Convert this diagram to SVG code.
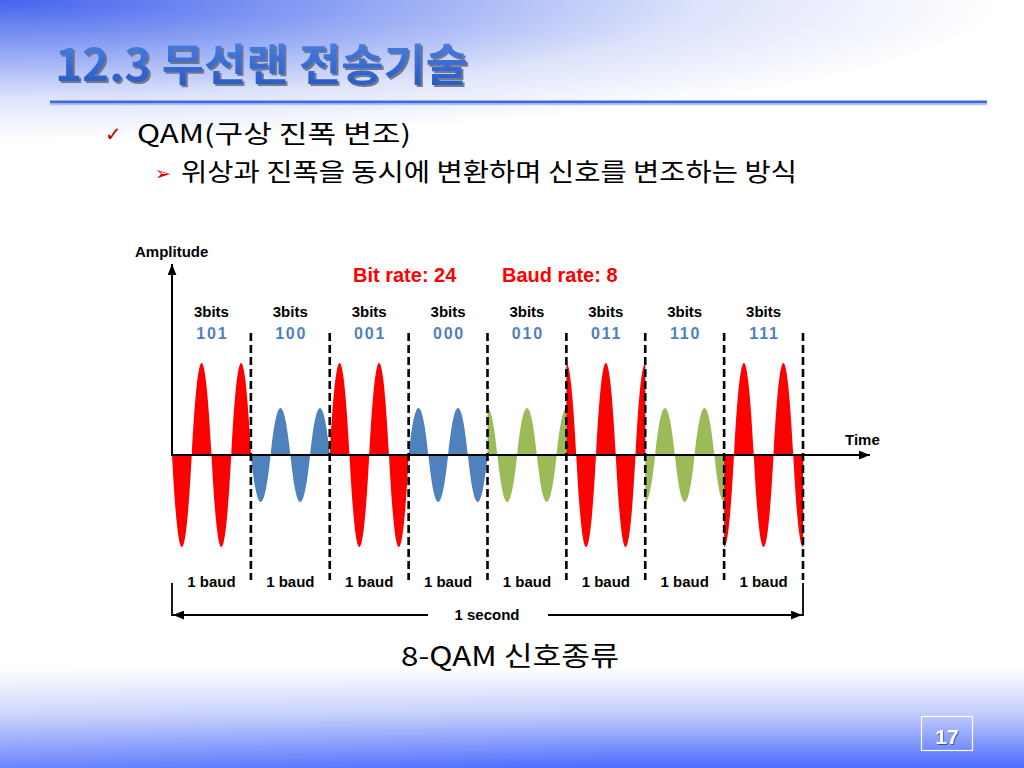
<svg xmlns="http://www.w3.org/2000/svg" xmlns:xlink="http://www.w3.org/1999/xlink" width="1024" height="768" viewBox="0 0 1024 768">
<defs>
  <radialGradient id="topBg" gradientUnits="userSpaceOnUse" cx="0" cy="0" r="1000" gradientTransform="scale(1,0.14)">
    <stop offset="0" stop-color="#4463ee"/>
    <stop offset="0.35" stop-color="#8ea3f4"/>
    <stop offset="0.7" stop-color="#dde3fb"/>
    <stop offset="1" stop-color="#ffffff"/>
  </radialGradient>
  <linearGradient id="botBg" x1="0" y1="668" x2="0" y2="768" gradientUnits="userSpaceOnUse">
    <stop offset="0" stop-color="#ffffff"/>
    <stop offset="0.45" stop-color="#c4cefb"/>
    <stop offset="1" stop-color="#4b6bfd"/>
  </linearGradient>
  <linearGradient id="botSide" x1="0" y1="0" x2="1024" y2="0" gradientUnits="userSpaceOnUse">
    <stop offset="0" stop-color="#ffffff" stop-opacity="0.18"/>
    <stop offset="0.6" stop-color="#ffffff" stop-opacity="0"/>
  </linearGradient>
  <linearGradient id="titleFill" x1="0" y1="40" x2="0" y2="85" gradientUnits="userSpaceOnUse">
    <stop offset="0" stop-color="#4a7fe0"/>
    <stop offset="1" stop-color="#2a5cc4"/>
  </linearGradient>
  <filter id="shadow" x="-5%" y="-20%" width="110%" height="140%">
    <feDropShadow dx="2" dy="2" stdDeviation="0.7" flood-color="#6a6f80" flood-opacity="0.9"/>
  </filter>
  <filter id="numShadow" x="-20%" y="-20%" width="140%" height="140%">
    <feDropShadow dx="1" dy="1" stdDeviation="0.5" flood-color="#203080" flood-opacity="0.7"/>
  </filter>
  <marker id="arrow" viewBox="0 0 10 8" refX="10" refY="4" markerWidth="11" markerHeight="9" markerUnits="userSpaceOnUse" orient="auto">
    <path d="M0,0 L10,4 L0,8 z" fill="#000"/>
  </marker>
  <!-- unit sine: y = -sin, two cycles over 79px -->
  <path id="sinW" d="M0,0 C6.5,-1.3333 13.25,-1.3333 19.75,0 C26.25,1.3333 33,1.3333 39.5,0 C46,-1.3333 52.75,-1.3333 59.25,0 C65.75,1.3333 72.5,1.3333 79,0 Z"/>
  <!-- unit cosine: y = -cos, two cycles over 79px -->
  <path id="cosW" d="M0,0 L0,-1 C3.3,-1 6.575,-0.677 9.875,0 C16.375,1.3333 23.125,1.3333 29.625,0 C36.125,-1.3333 42.875,-1.3333 49.375,0 C55.875,1.3333 62.625,1.3333 69.125,0 C72.425,-0.677 75.7,-1 79,-1 L79,0 Z"/>
  <style>
    .lbl { font-family: "Liberation Sans", Arial, sans-serif; font-weight: bold; fill: #000; }
    .bits { font-family: "Liberation Sans", Arial, sans-serif; font-weight: bold; font-size: 15px; fill: #000; text-anchor: middle; }
    .code { font-family: "Liberation Sans", Arial, sans-serif; font-weight: bold; font-size: 16px; fill: #4F81BD; text-anchor: middle; letter-spacing: 1.8px; }
    .baud { font-family: "Liberation Sans", Arial, sans-serif; font-weight: bold; font-size: 15px; fill: #000; text-anchor: middle; }
    .rate { font-family: "Liberation Sans", Arial, sans-serif; font-weight: bold; font-size: 20px; fill: #FF0000; }
    .kr { font-family: "Noto Sans CJK KR", "Noto Sans", sans-serif; fill: #000; }
    .red { fill: #FF0000; }
    .blue { fill: #4F81BD; }
    .green { fill: #9BBB59; }
    .dash { stroke: #000; stroke-width: 2.6; stroke-dasharray: 8 4; fill: none; }
    .axis { stroke: #000; stroke-width: 2; fill: none; }
  </style>
</defs>

<!-- background -->
<rect x="0" y="0" width="1024" height="768" fill="#ffffff"/>
<rect x="0" y="0" width="1024" height="150" fill="url(#topBg)"/>
<rect x="0" y="668" width="1024" height="100" fill="url(#botBg)"/>
<rect x="0" y="668" width="1024" height="100" fill="url(#botSide)"/>

<!-- title -->
<g id="title">
  <text x="55" y="81" font-family="'Noto Sans CJK KR', 'Noto Sans', sans-serif" font-weight="bold" font-size="44" fill="url(#titleFill)" filter="url(#shadow)" textLength="413" lengthAdjust="spacingAndGlyphs">12.3 무선랜 전송기술</text>
  <line x1="50" y1="102" x2="987" y2="102" stroke="#4169E1" stroke-width="3"/>
  <line x1="50" y1="104.5" x2="987" y2="104.5" stroke="#b4c2f2" stroke-width="1.5"/>
</g>

<!-- bullets -->
<g id="bullet1">
  <text x="105" y="141" font-family="'DejaVu Sans', sans-serif" font-size="20" fill="#CC0000">✓</text>
  <text class="kr" x="137" y="143" font-size="25" textLength="274" lengthAdjust="spacingAndGlyphs">QAM(구상 진폭 변조)</text>
</g>
<g id="bullet2">
  <text x="155" y="180" font-family="'DejaVu Sans', sans-serif" font-size="19" fill="#DD0000">➢</text>
  <text class="kr" x="181" y="181" font-size="25" textLength="616" lengthAdjust="spacingAndGlyphs">위상과 진폭을 동시에 변환하며 신호를 변조하는 방식</text>
</g>

<!-- rate labels -->
<g id="rates">
  <text class="rate" x="353" y="282">Bit rate: 24</text>
  <text class="rate" x="502" y="282">Baud rate: 8</text>
</g>

<!-- waveform segments -->
<g id="waves">
  <g id="seg-101"><use xlink:href="#sinW" href="#sinW" class="red" transform="translate(172,455) scale(1,-92)"/></g>
  <g id="seg-100"><use xlink:href="#sinW" href="#sinW" class="blue" transform="translate(250.875,455) scale(1,-47)"/></g>
  <g id="seg-001"><use xlink:href="#sinW" href="#sinW" class="red" transform="translate(329.75,455) scale(1,92)"/></g>
  <g id="seg-000"><use xlink:href="#sinW" href="#sinW" class="blue" transform="translate(408.625,455) scale(1,47)"/></g>
  <g id="seg-010"><use xlink:href="#cosW" href="#cosW" class="green" transform="translate(487.5,455) scale(1,47)"/></g>
  <g id="seg-011"><use xlink:href="#cosW" href="#cosW" class="red" transform="translate(566.375,455) scale(1,92)"/></g>
  <g id="seg-110"><use xlink:href="#cosW" href="#cosW" class="green" transform="translate(645.25,455) scale(1,-47)"/></g>
  <g id="seg-111"><use xlink:href="#cosW" href="#cosW" class="red" transform="translate(724.125,455) scale(1,-92)"/></g>
</g>

<!-- axes -->
<g id="axes">
  <line class="axis" x1="172" y1="455" x2="172" y2="264" marker-end="url(#arrow)"/>
  <line class="axis" x1="171" y1="455" x2="870" y2="455" marker-end="url(#arrow)"/>
  <text class="lbl" x="135" y="257" font-size="15">Amplitude</text>
  <text class="lbl" x="845" y="445" font-size="15">Time</text>
</g>

<!-- connectors: baud boundaries and 1-second span -->
<g id="connectors">
  <line class="dash" x1="250.875" y1="333" x2="250.875" y2="580"/>
  <line class="dash" x1="329.75" y1="333" x2="329.75" y2="580"/>
  <line class="dash" x1="408.625" y1="333" x2="408.625" y2="580"/>
  <line class="dash" x1="487.5" y1="333" x2="487.5" y2="580"/>
  <line class="dash" x1="566.375" y1="333" x2="566.375" y2="580"/>
  <line class="dash" x1="645.25" y1="333" x2="645.25" y2="580"/>
  <line class="dash" x1="724.125" y1="333" x2="724.125" y2="580"/>
  <line class="dash" x1="803" y1="333" x2="803" y2="580"/>
  <line stroke="#000" stroke-width="1.8" x1="172" y1="583" x2="172" y2="616"/>
  <line stroke="#000" stroke-width="1.8" x1="803" y1="583" x2="803" y2="616"/>
  <line stroke="#000" stroke-width="1.8" x1="428" y1="615" x2="173" y2="615" marker-end="url(#arrow)"/>
  <line stroke="#000" stroke-width="1.8" x1="548" y1="615" x2="802" y2="615" marker-end="url(#arrow)"/>
</g>

<!-- segment labels -->
<g id="labels">
  <text class="bits" x="211.4" y="317">3bits</text>
  <text class="bits" x="290.3" y="317">3bits</text>
  <text class="bits" x="369.2" y="317">3bits</text>
  <text class="bits" x="448.1" y="317">3bits</text>
  <text class="bits" x="526.9" y="317">3bits</text>
  <text class="bits" x="605.8" y="317">3bits</text>
  <text class="bits" x="684.7" y="317">3bits</text>
  <text class="bits" x="763.6" y="317">3bits</text>

  <text class="code" x="212.3" y="339">101</text>
  <text class="code" x="291.2" y="339">100</text>
  <text class="code" x="370.1" y="339">001</text>
  <text class="code" x="449.0" y="339">000</text>
  <text class="code" x="527.8" y="339">010</text>
  <text class="code" x="606.7" y="339">011</text>
  <text class="code" x="685.6" y="339">110</text>
  <text class="code" x="764.5" y="339">111</text>

  <text class="baud" x="211.4" y="587">1 baud</text>
  <text class="baud" x="290.3" y="587">1 baud</text>
  <text class="baud" x="369.2" y="587">1 baud</text>
  <text class="baud" x="448.1" y="587">1 baud</text>
  <text class="baud" x="526.9" y="587">1 baud</text>
  <text class="baud" x="605.8" y="587">1 baud</text>
  <text class="baud" x="684.7" y="587">1 baud</text>
  <text class="baud" x="763.6" y="587">1 baud</text>

  <text class="baud" x="487" y="620">1 second</text>
</g>

<!-- caption -->
<g id="caption">
  <text class="kr" x="401" y="666" font-size="27" textLength="218" lengthAdjust="spacingAndGlyphs">8-QAM 신호종류</text>
</g>

<!-- page number -->
<g id="page-number">
  <rect x="921.5" y="716.5" width="51" height="34" fill="none" stroke="#ffffff" stroke-width="1.2"/>
  <text x="947" y="744" text-anchor="middle" font-family="'Liberation Sans', Arial, sans-serif" font-weight="bold" font-size="21" fill="#ffffff" filter="url(#numShadow)">17</text>
</g>
</svg>
